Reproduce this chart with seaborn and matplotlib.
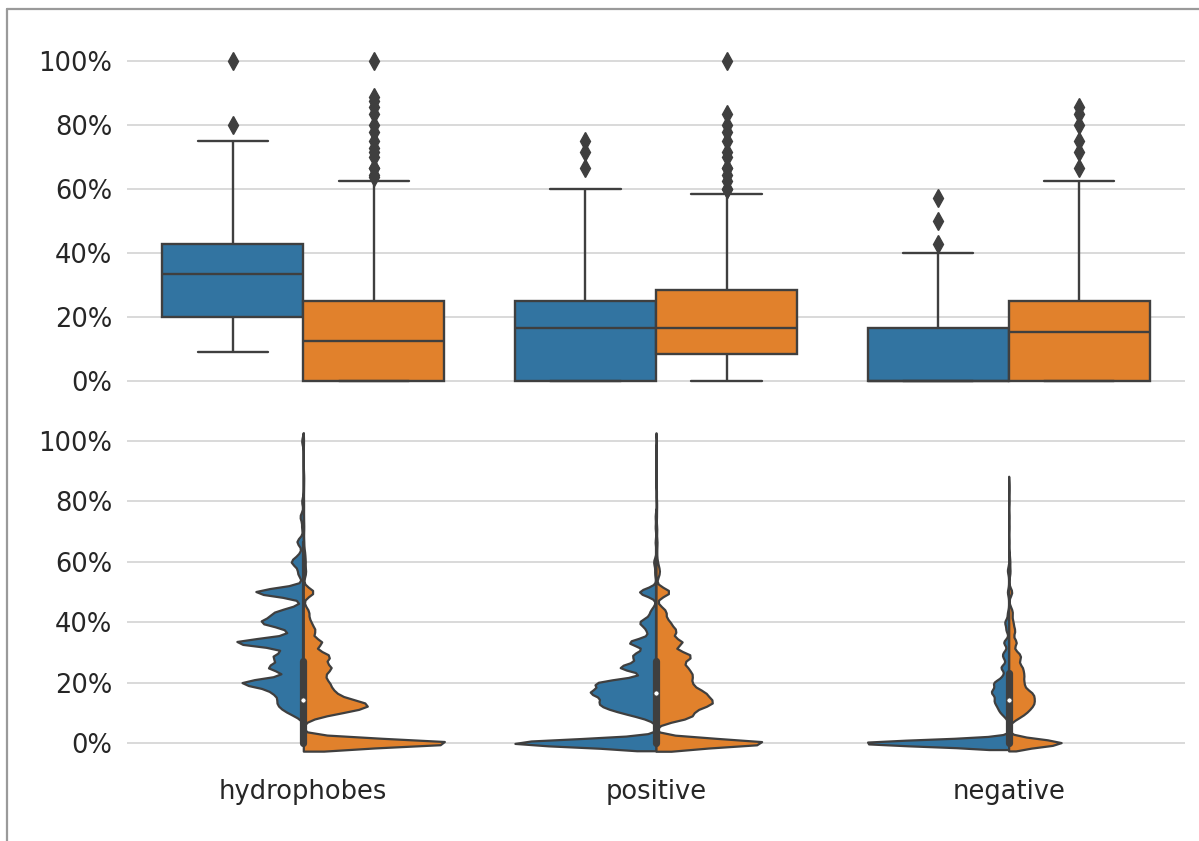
import numpy as np
import pandas as pd
import matplotlib
matplotlib.use("Agg")
import matplotlib.pyplot as plt
import seaborn as sns
from matplotlib.ticker import PercentFormatter
from matplotlib.lines import Line2D

# ---------------- data (fractions and how often each occurs) ----------------
CATEGORIES = ["hydrophobes", "positive", "negative"]
GROUPS = ["group A", "group B"]
Y_TICKS = [0.0, 0.2, 0.4, 0.6, 0.8, 1.0]

HYD_A_VALUES = [0.0909, 0.1, 0.1111, 0.125, 0.1429, 0.1667, 0.1818, 0.2, 0.2222, 0.25,
                0.2727, 0.2857, 0.3, 0.3333, 0.3636, 0.375, 0.4, 0.4286, 0.4444, 0.5,
                0.5556, 0.5714, 0.6, 0.625, 0.6667, 0.7143, 0.75, 0.8, 1.0]
HYD_A_COUNTS = [2, 3, 5, 8, 10, 13, 6, 34, 5, 20,
                4, 13, 5, 42, 3, 5, 24, 15, 4, 30,
                2, 2, 7, 2, 4, 1, 2, 1, 1]

HYD_B_VALUES = [0.0, 0.0833, 0.0909, 0.1, 0.1111, 0.125, 0.1333, 0.1429, 0.1538, 0.1667,
                0.1818, 0.2, 0.2222, 0.2308, 0.25, 0.2727, 0.2857, 0.3, 0.3333, 0.3636,
                0.375, 0.4, 0.4286, 0.4444, 0.5, 0.5556, 0.5714, 0.6, 0.625, 0.6364,
                0.6429, 0.6667, 0.7, 0.7143, 0.7273, 0.75, 0.7778, 0.8, 0.8333, 0.8571,
                0.875, 0.8889, 1.0]
HYD_B_COUNTS = [750, 15, 25, 50, 120, 150, 55, 95, 40, 80,
                60, 85, 58, 22, 112, 38, 75, 50, 88, 20,
                38, 30, 20, 10, 50, 5, 8, 8, 5, 1,
                1, 2, 1, 1, 1, 1, 1, 1, 1, 1,
                1, 1, 1]

POS_A_VALUES = [0.0, 0.0833, 0.0909, 0.1, 0.1111, 0.125, 0.1333, 0.1429, 0.1538, 0.1667,
                0.1818, 0.2, 0.2222, 0.25, 0.2727, 0.2857, 0.3, 0.3333, 0.3636, 0.375,
                0.4, 0.4286, 0.4444, 0.5, 0.5556, 0.5714, 0.6, 0.6667, 0.7143, 0.75]
POS_A_COUNTS = [190, 5, 8, 15, 25, 35, 10, 35, 10, 60,
                25, 65, 8, 45, 8, 18, 14, 35, 4, 8,
                20, 6, 3, 22, 1, 1, 3, 1, 1, 1]

POS_B_VALUES = [0.0, 0.0769, 0.0833, 0.0909, 0.1, 0.1111, 0.125, 0.1333, 0.1429, 0.1538,
                0.1667, 0.1818, 0.2, 0.2222, 0.2308, 0.25, 0.2727, 0.2857, 0.3, 0.3333,
                0.3636, 0.375, 0.4, 0.4286, 0.4444, 0.5, 0.5556, 0.5714, 0.5833, 0.6,
                0.625, 0.6429, 0.6667, 0.7, 0.7143, 0.75, 0.7778, 0.8, 0.8333, 1.0]
POS_B_COUNTS = [250, 5, 45, 10, 22, 30, 50, 25, 50, 25,
                60, 35, 50, 45, 20, 50, 25, 40, 35, 55,
                20, 25, 25, 15, 10, 30, 4, 4, 2, 2,
                1, 1, 2, 1, 1, 1, 1, 1, 1, 1]

NEG_A_VALUES = [0.0, 0.0833, 0.0909, 0.1, 0.1111, 0.125, 0.1333, 0.1429, 0.1538, 0.1667,
                0.1818, 0.2, 0.2222, 0.25, 0.2727, 0.2857, 0.3, 0.3333, 0.375, 0.4,
                0.4286, 0.5, 0.5714]
NEG_A_COUNTS = [120, 1, 1, 3, 4, 5, 2, 7, 2, 10,
                6, 10, 4, 6, 1, 3, 3, 4, 2, 3,
                1, 1, 1]

NEG_B_VALUES = [0.0, 0.0769, 0.0833, 0.0909, 0.1, 0.1111, 0.125, 0.1333, 0.1429, 0.1538,
                0.1667, 0.1818, 0.2, 0.2222, 0.2308, 0.25, 0.2727, 0.2857, 0.3, 0.3333,
                0.3636, 0.375, 0.4, 0.4286, 0.4444, 0.5, 0.5556, 0.5714, 0.6, 0.625,
                0.6667, 0.7143, 0.75, 0.8, 0.8333, 0.8571]
NEG_B_COUNTS = [205, 4, 12, 12, 24, 30, 40, 20, 34, 32,
                48, 24, 40, 32, 16, 40, 16, 24, 20, 28,
                10, 14, 14, 10, 6, 12, 2, 4, 4, 2,
                1, 1, 1, 1, 1, 1]

SERIES = [
    ("hydrophobes", "group A", HYD_A_VALUES, HYD_A_COUNTS),
    ("hydrophobes", "group B", HYD_B_VALUES, HYD_B_COUNTS),
    ("positive", "group A", POS_A_VALUES, POS_A_COUNTS),
    ("positive", "group B", POS_B_VALUES, POS_B_COUNTS),
    ("negative", "group A", NEG_A_VALUES, NEG_A_COUNTS),
    ("negative", "group B", NEG_B_VALUES, NEG_B_COUNTS),
]

frames = []
for cat, grp, vals, cnts in SERIES:
    v = np.repeat(np.asarray(vals, dtype=float), np.asarray(cnts, dtype=int))
    frames.append(pd.DataFrame({"category": cat, "group": grp, "value": v}))
df = pd.concat(frames, ignore_index=True)

# ---------------- style ----------------
sns.set_theme(style="whitegrid")
plt.rcParams["font.family"] = ["DejaVu Sans"]
LINE = "#3f3f3f"
PALETTE = ["#1f77b4", "#ff7f0e"]
FS = 18.5
BW_FACTOR = 0.09

fig = plt.figure(figsize=(11.99, 8.41), dpi=100)
ax_top = fig.add_axes([0.1059, 0.5280, 0.8824, 0.4185])
ax_bot = fig.add_axes([0.1059, 0.0868, 0.8824, 0.4185])

sns.boxplot(data=df, x="category", y="value", hue="group",
            order=CATEGORIES, hue_order=GROUPS, palette=PALETTE, ax=ax_top,
            width=0.8, linecolor=LINE, linewidth=1.7, fliersize=9,
            flierprops=dict(marker="d", markersize=9, markerfacecolor=LINE,
                            markeredgecolor=LINE, markeredgewidth=1),
            legend=False)

# one call per category so that the two halves are scaled within each category
for cat in CATEGORIES:
    sns.violinplot(data=df[df["category"] == cat], x="category", y="value", hue="group",
                   order=CATEGORIES, hue_order=GROUPS, palette=PALETTE, ax=ax_bot,
                   split=True, inner=None, cut=2, bw_method=BW_FACTOR,
                   density_norm="area", common_norm=True, width=0.8,
                   linecolor=LINE, linewidth=1.6, legend=False)

# inner box of each split violin, computed from both groups together
for i, cat in enumerate(CATEGORIES):
    v = df.loc[df["category"] == cat, "value"].to_numpy()
    q25, q50, q75 = np.percentile(v, [25, 50, 75])
    lim = 1.5 * (q75 - q25)
    lo = v[v >= q25 - lim].min()
    hi = v[v <= q75 + lim].max()
    ax_bot.plot([i, i], [lo, hi], color=LINE, lw=1.6, zorder=2.5)
    ax_bot.plot([i, i], [q25, q75], color=LINE, lw=5.2, zorder=2.5)
    ax_bot.scatter([i], [q50], s=14, color="white", edgecolor=LINE,
                   linewidth=0.6, zorder=3)

for ax in (ax_top, ax_bot):
    ax.set_xlabel("")
    ax.set_ylabel("")
    ax.set_xlim(-0.5, 2.5)
    ax.set_yticks(Y_TICKS)
    ax.yaxis.set_major_formatter(PercentFormatter(1.0, decimals=0))
    ax.xaxis.grid(False)
    ax.yaxis.grid(True, color="#d3d3d3", linewidth=1.2)
    ax.set_axisbelow(True)
    for s in ax.spines.values():
        s.set_visible(False)
    ax.tick_params(axis="y", labelsize=FS, length=0, pad=10.5, labelcolor="#262626")
    ax.tick_params(axis="x", labelsize=FS, length=0, pad=8, labelcolor="#262626")

ax_top.set_ylim(-0.05, 1.05)
ax_bot.set_ylim(-0.083, 1.083)
ax_top.tick_params(axis="x", labelbottom=False)

# thin grey frame at the left and top edge of the picture
fig.add_artist(Line2D([7 / 1199, 7 / 1199], [0, 1 - 9 / 841], transform=fig.transFigure,
                      color="#9a9a9a", lw=1.6))
fig.add_artist(Line2D([7 / 1199, 1], [1 - 9 / 841, 1 - 9 / 841], transform=fig.transFigure,
                      color="#9a9a9a", lw=1.6))

fig.savefig("out.png", dpi=100, facecolor="white")
